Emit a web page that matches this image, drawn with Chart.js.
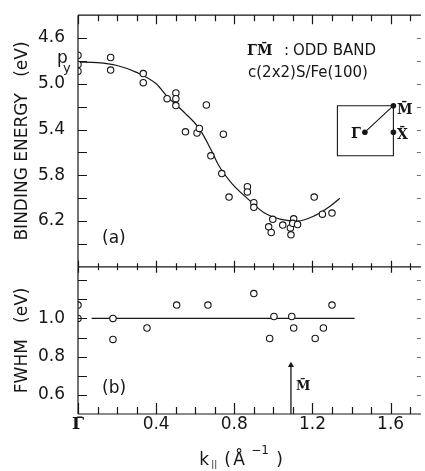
<!DOCTYPE html>
<html><head><meta charset="utf-8">
<script src="https://cdn.jsdelivr.net/npm/chart.js@4"></script>
<style>html,body{margin:0;padding:0;background:#fff;}#wrap{position:relative;width:425px;height:471px;}</style>
</head><body><div id="wrap"><canvas id="c" width="425" height="471"></canvas></div>
<script>
// ---- data ----
const kMajor = [0, 0.4, 0.8, 1.2, 1.6];
const kMajorLabels = ['\u0393\u0304', '0.4', '0.8', '1.2', '1.6'];
const kMinorTicks = [0,0.1,0.2,0.3,0.4,0.5,0.6,0.7,0.8,0.9,1.0,1.1,1.2,1.3,1.4,1.5,1.6,1.7];
const energyMajor = [4.6, 5.0, 5.4, 5.8, 6.2];
const energyTicks = [4.6,4.8,5.0,5.2,5.4,5.6,5.8,6.0,6.2,6.4];
const fwhmMajor = [0.6, 0.8, 1.0, 1.2];
const fwhmTicks = [0.6,0.7,0.8,0.9,1.0,1.1,1.2];

// (a) binding energy of the odd band
const bandK = [0,0,0, 0.167,0.167, 0.334,0.334, 0.456, 0.501,0.501,0.501, 0.55, 0.609,0.621, 0.657, 0.68, 0.744, 0.736, 0.773, 0.867,0.867, 0.9,0.9, 0.997,0.976,0.989, 1.048,1.087,1.09,1.104,1.099,1.124, 1.209,1.251,1.3];
const bandE = [4.75,4.83,4.89, 4.77,4.88, 4.91,4.99, 5.13, 5.08,5.13,5.19, 5.42, 5.43,5.39, 5.185, 5.63, 5.44, 5.785, 5.99, 5.90,5.945, 6.04,6.08, 6.185,6.25,6.30, 6.235,6.26,6.32,6.18,6.22,6.23, 5.99,6.14,6.13];
// fitted curve through (a)
const fitK = [0, 0.1, 0.2, 0.3, 0.4, 0.456, 0.55, 0.62, 0.685, 0.719, 0.787, 0.872, 0.955, 1.039, 1.124, 1.209, 1.29, 1.34];
const fitE = [4.81, 4.815, 4.84, 4.90, 5.00, 5.11, 5.26, 5.39, 5.59, 5.71, 5.87, 6.01, 6.13, 6.185, 6.20, 6.155, 6.07, 6.00];
// (b) FWHM
const widthK = [0,0, 0.179,0.179, 0.353, 0.505, 0.665, 0.9, 1.003, 0.981, 1.094, 1.104, 1.214, 1.256, 1.3];
const widthV = [1.07,1.0, 1.0,0.89, 0.95, 1.07, 1.07, 1.13, 1.01, 0.895, 1.01, 0.95, 0.895, 0.95, 1.07];
const widthLineK = [0.07, 1.416];
const widthLineV = [1.0, 1.0];
// M-bar position arrow
const mBarK = [1.09, 1.09];
const mBarV = [0.5, 0.755];

const INK = '#161616';
const SANS = '"DejaVu Sans", sans-serif';
const SERIF = '"DejaVu Serif", serif';
const pts = (xs, ys) => xs.map((x, i) => ({x, y: ys[i]}));

const annot = {
  id: 'annot',
  afterDraw(chart) {
    const ctx = chart.ctx, xs = chart.scales.x, yE = chart.scales.yE, yW = chart.scales.yW;
    const ca = chart.chartArea;
    const L = ca.left, R = ca.right + 1, T = ca.top, B = ca.bottom, D = yE.bottom;
    ctx.save();
    ctx.strokeStyle = INK; ctx.fillStyle = INK; ctx.lineWidth = 1.2;
    ctx.beginPath();
    ctx.moveTo(L, T); ctx.lineTo(L, B);
    ctx.moveTo(L, T); ctx.lineTo(R, T);
    ctx.moveTo(L, D); ctx.lineTo(R, D);
    ctx.moveTo(L, B); ctx.lineTo(R, B);
    kMinorTicks.forEach(k => {
      const px = Math.round(xs.getPixelForValue(k)) + 0.5;
      const maj = kMajor.some(m => Math.abs(m - k) < 1e-6);
      ctx.moveTo(px, T); ctx.lineTo(px, T + (maj ? 9 : 6));
      ctx.moveTo(px, D - (maj ? 6 : 3.5)); ctx.lineTo(px, D + (maj ? 6 : 3.5));
      ctx.moveTo(px, B); ctx.lineTo(px, B - (maj ? 11 : 7));
    });
    energyTicks.forEach(v => { const py = Math.round(yE.getPixelForValue(v)) + 0.5; ctx.moveTo(L, py); ctx.lineTo(L + 9, py); });
    fwhmTicks.forEach(v => { const py = Math.round(yW.getPixelForValue(v)) + 0.5; ctx.moveTo(L, py); ctx.lineTo(L + 9, py); });
    ctx.stroke();
    ctx.strokeStyle = '#777'; ctx.lineWidth = 1;
    ctx.beginPath();
    energyTicks.forEach(v => { const py = Math.round(yE.getPixelForValue(v)) + 0.5; ctx.moveTo(R, py); ctx.lineTo(R - 4, py); });
    fwhmTicks.forEach(v => { const py = Math.round(yW.getPixelForValue(v)) + 0.5; ctx.moveTo(R, py); ctx.lineTo(R - 4, py); });
    ctx.stroke();

    ctx.fillStyle = INK; ctx.strokeStyle = INK;
    ctx.textBaseline = 'alphabetic'; ctx.textAlign = 'left';
    ctx.font = '17px ' + SANS; ctx.fillText('p', L - 21, T + 48);
    ctx.font = '13px ' + SANS; ctx.fillText('y', L - 15, T + 57);
    ctx.font = '17px ' + SANS;
    ctx.fillText('(a)', L + 24, D - 24);
    ctx.fillText('(b)', L + 24, B - 21);
    ctx.font = 'bold 14px ' + SERIF; ctx.fillText('\u0393\u0304M\u0304', L + 169, T + 40);
    ctx.font = '15px ' + SANS; ctx.fillText(':', L + 206, T + 40);
    ctx.fillText('ODD BAND', L + 215, T + 40);
    ctx.fillText('c(2x2)S/Fe(100)', L + 170, T + 62);
    const iL = R - 84, iR = R - 28, iT = T + 90, iB = T + 140, gx = R - 56, gy = T + 117;
    ctx.lineWidth = 1.1;
    ctx.beginPath();
    ctx.rect(iL + 0.5, iT + 0.5, iR - iL, iB - iT);
    ctx.moveTo(gx, gy); ctx.lineTo(iR + 0.5, iT + 0.5);
    ctx.stroke();
    [[gx, gy], [iR + 0.5, iT + 0.5], [iR + 0.5, gy]].forEach(([a, b]) => { ctx.beginPath(); ctx.arc(a, b, 2.8, 0, Math.PI * 2); ctx.fill(); });
    ctx.font = 'bold 14px ' + SERIF;
    ctx.textAlign = 'right'; ctx.fillText('\u0393\u0304', gx - 4, gy + 6);
    ctx.textAlign = 'left';
    ctx.fillText('M\u0304', iR + 4, iT + 9);
    ctx.fillText('X\u0304', iR + 4, gy + 7);
    ctx.font = 'bold 13px ' + SERIF;
    ctx.fillText('M\u0304', xs.getPixelForValue(mBarK[0]) + 5, B - 24);
    const tx = xs.getPixelForValue(0.62), ty = B + 51;
    ctx.font = '17px ' + SANS; ctx.fillText('k', tx, ty);
    ctx.font = '9px ' + SANS; ctx.fillText('||', tx + 12, ty + 2);
    ctx.font = '17px ' + SANS; ctx.fillText('(', tx + 25, ty);
    ctx.fillText('\u00C5', tx + 34, ty);
    ctx.font = '12px ' + SANS; ctx.fillText('\u22121', tx + 52, ty - 11);
    ctx.font = '17px ' + SANS; ctx.fillText(')', tx + 77, ty);
    ctx.restore();
  }
};

const tickFont = {family: SANS, size: 17};
new Chart(document.getElementById('c'), {
  type: 'scatter',
  data: {
    datasets: [
      {data: pts(bandK, bandE), yAxisID: 'yE', order: 1, pointRadius: 3.2, pointBorderWidth: 1.1, pointBackgroundColor: '#fff', pointBorderColor: INK, showLine: false},
      {data: pts(fitK, fitE), yAxisID: 'yE', order: 3, showLine: true, pointRadius: 0, borderColor: INK, borderWidth: 1.2, cubicInterpolationMode: 'monotone'},
      {data: pts(widthK, widthV), yAxisID: 'yW', order: 1, pointRadius: 3.2, pointBorderWidth: 1.1, pointBackgroundColor: '#fff', pointBorderColor: INK, showLine: false},
      {data: pts(widthLineK, widthLineV), yAxisID: 'yW', order: 3, showLine: true, pointRadius: 0, borderColor: INK, borderWidth: 1.2},
      {data: pts(mBarK, mBarV), yAxisID: 'yW', order: 2, showLine: true, borderColor: INK, borderWidth: 1.3, pointStyle: 'triangle', pointRadius: [0, 3.5], pointBackgroundColor: INK, pointBorderColor: INK, pointBorderWidth: 0}
    ]
  },
  options: {
    responsive: false, animation: false, devicePixelRatio: 1,
    layout: {padding: {top: 13, right: 1, left: 0, bottom: 0}},
    plugins: {legend: {display: false}, tooltip: {enabled: false}},
    scales: {
      x: {type: 'linear', position: 'bottom', min: 0, max: 1.75,
        afterFit(s) { s.height = 57; },
        grid: {display: false, drawTicks: false}, border: {display: false},
        ticks: {stepSize: 0.1, autoSkip: false, maxRotation: 0, minRotation: 0, padding: 0, color: INK,
          font: (c) => (c.tick && c.tick.value === 0) ? {family: SERIF, size: 17, weight: 'bold'} : tickFont,
          callback(v) { const i = kMajor.findIndex(m => Math.abs(m - v) < 1e-6); return i >= 0 ? kMajorLabels[i] : ''; }}
      },
      yW: {type: 'linear', position: 'left', stack: 'panels', stackWeight: 148, min: 0.5, max: 1.27,
        afterFit(s) { s.width = 78; },
        grid: {display: false}, border: {display: false},
        ticks: {stepSize: 0.1, autoSkip: false, padding: 5, color: INK, font: tickFont,
          callback(v) { return fwhmMajor.some(m => Math.abs(m - v) < 1e-6) ? v.toFixed(1) : ''; }},
        title: {display: true, text: 'FWHM   (eV)', color: INK, font: {family: SANS, size: 17}, padding: {top: 12, bottom: 0}}
      },
      yE: {type: 'linear', position: 'left', stack: 'panels', stackWeight: 253, min: 4.4, max: 6.6, reverse: true,
        afterFit(s) { s.width = 78; },
        grid: {display: false}, border: {display: false},
        ticks: {stepSize: 0.2, autoSkip: false, padding: 5, color: INK, font: tickFont,
          callback(v) { return energyMajor.some(m => Math.abs(m - v) < 1e-6) ? v.toFixed(1) : ''; }},
        title: {display: true, text: 'BINDING ENERGY   (eV)', color: INK, font: {family: SANS, size: 17}, padding: {top: 12, bottom: 0}}
      }
    }
  },
  plugins: [annot]
});
</script></body></html>
